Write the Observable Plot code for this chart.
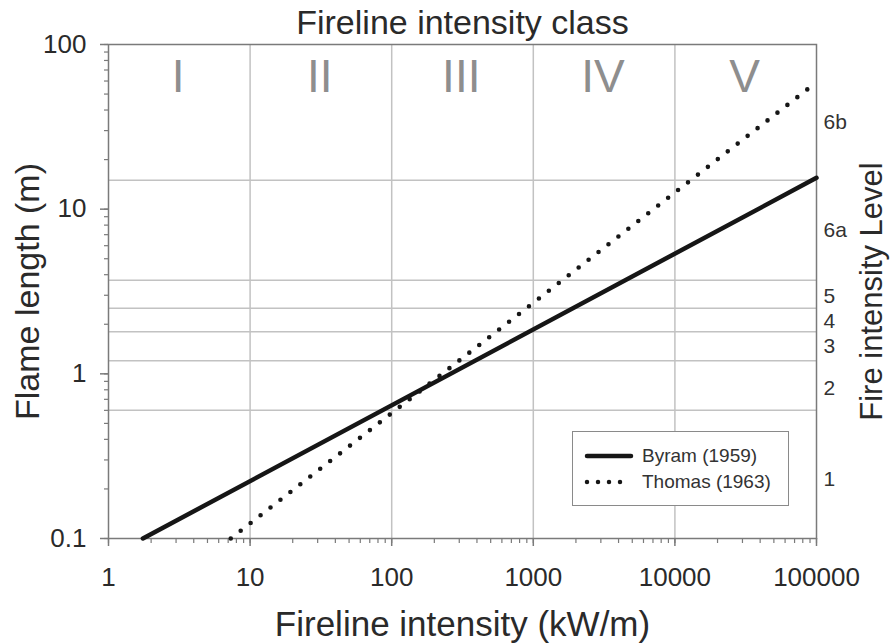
<!DOCTYPE html>
<html>
<head>
<meta charset="utf-8">
<script src="https://cdn.jsdelivr.net/npm/d3@7"></script>
<script src="https://cdn.jsdelivr.net/npm/@observablehq/plot@0.6"></script>
<style>
  html, body { margin: 0; padding: 0; background: #fff; }
  #wrap { position: relative; width: 895px; height: 644px; font-family: "Liberation Sans", Arial, sans-serif; }
  #legend { position: absolute; left: 572px; top: 431px; width: 217px; height: 75px; border: 1.5px solid #8a8a8a; background: #fff; box-sizing: border-box; }
  .row { position: absolute; left: 11px; display: flex; align-items: center; font-size: 19px; color: #333; line-height: 22px; }
  .row svg { margin-right: 8px; }
</style>
</head>
<body>
<div id="wrap"><div id="legend"></div></div>
<script>
// ---- data ----
const xMajor = [1, 10, 100, 1000, 10000, 100000];
const yMajor = [0.1, 1, 10, 100];
const xGrid = [10, 100, 1000, 10000];
const classNames = ["I", "II", "III", "IV", "V"];
const classCenters = [3.1, 31, 310, 3100, 31000];
const levelBounds = [0.6, 1.2, 1.8, 2.5, 3.7, 15];
const levelNames = ["1", "2", "3", "4", "5", "6a", "6b"];
const levelLabelY = [0.23, 0.82, 1.47, 2.1, 2.95, 7.4, 33.5];
const byramI = [1.75, 100000];
const byramL = [0.1, 15.5];
const thomasI = [7.3, 100000];
const thomasL = [0.1, 59];
const seriesNames = ["Byram (1959)", "Thomas (1963)"];

const byram = byramI.map((I, i) => ({I, L: byramL[i]}));
const thomas = thomasI.map((I, i) => ({I, L: thomasL[i]}));

const font = "'Liberation Sans', Arial, sans-serif";
const ink = "#2a2a2a";
const gridCol = "#c2c2c2";
const axisCol = "#7a7a7a";

const chart = Plot.plot({
  width: 895,
  height: 644,
  marginLeft: 108,
  marginRight: 79,
  marginTop: 44,
  marginBottom: 106,
  style: {fontFamily: font, background: "white", overflow: "visible"},
  x: {type: "log", domain: [1, 100000]},
  y: {type: "log", domain: [0.1, 100]},
  marks: [
    Plot.ruleX(xGrid, {stroke: gridCol, strokeWidth: 1.5}),
    Plot.ruleY(levelBounds, {stroke: gridCol, strokeWidth: 1.5}),
    Plot.text(classNames, {x: (d, i) => classCenters[i], text: d => d, frameAnchor: "top", lineAnchor: "middle", dy: 33, fontSize: 46, fill: "#8e8e8e"}),
    Plot.frame({stroke: axisCol, strokeWidth: 1.5}),
    // minor ticks
    Plot.axisX({ticks: 10, tickSize: 5, tickFormat: () => "", label: null, stroke: axisCol, strokeWidth: 1.2}),
    Plot.axisY({ticks: 10, tickSize: 4, tickFormat: () => "", label: null, stroke: axisCol, strokeWidth: 1.2}),
    // major ticks + labels
    Plot.axisX({ticks: xMajor, tickSize: 8, tickPadding: 21, fontSize: 26, fill: ink, stroke: axisCol, strokeWidth: 1.5, tickFormat: d => String(d), label: null}),
    Plot.axisY({ticks: yMajor, tickSize: 8, tickPadding: 14, fontSize: 26, fill: ink, stroke: axisCol, strokeWidth: 1.5, tickFormat: d => String(d), label: null}),
    // series
    Plot.line(byram, {x: "I", y: "L", stroke: "#161616", strokeWidth: 4.5, strokeLinecap: "round"}),
    Plot.line(thomas, {x: "I", y: "L", stroke: "#161616", strokeWidth: 4.6, strokeLinecap: "round", strokeDasharray: "0 12.6"}),
    // level labels on the right
    Plot.text(levelNames, {y: (d, i) => levelLabelY[i], text: d => d, frameAnchor: "right", textAnchor: "start", dx: 7, fontSize: 21, fill: "#333"}),
    // titles
    Plot.text(["Fireline intensity class"], {text: d => d, frameAnchor: "top", lineAnchor: "middle", dy: -21, fontSize: 34, fill: ink}),
    Plot.text(["Fireline intensity (kW/m)"], {text: d => d, frameAnchor: "bottom", lineAnchor: "middle", dy: 86, fontSize: 35, fill: ink}),
    Plot.text(["Flame length (m)"], {text: d => d, frameAnchor: "left", textAnchor: "middle", lineAnchor: "middle", dx: -80, rotate: -90, fontSize: 34, fill: ink}),
    Plot.text(["Fire intensity Level"], {text: d => d, frameAnchor: "right", textAnchor: "middle", lineAnchor: "middle", dx: 56, rotate: -90, fontSize: 31, fill: ink})
  ]
});

const wrap = document.getElementById("wrap");
wrap.insertBefore(chart, wrap.firstChild);

// legend
const legend = document.getElementById("legend");
const swatches = [
  `<svg width="50" height="10"><line x1="3" y1="5" x2="47" y2="5" stroke="#161616" stroke-width="4.5" stroke-linecap="round"/></svg>`,
  `<svg width="50" height="10"><line x1="3" y1="5" x2="47" y2="5" stroke="#161616" stroke-width="4.5" stroke-linecap="round" stroke-dasharray="0 11"/></svg>`
];
seriesNames.forEach((name, i) => {
  const row = document.createElement("div");
  row.className = "row";
  row.style.top = (i === 0 ? 13 : 38.5) + "px";
  row.innerHTML = swatches[i] + `<span>${name}</span>`;
  legend.appendChild(row);
});
</script>
</body>
</html>
